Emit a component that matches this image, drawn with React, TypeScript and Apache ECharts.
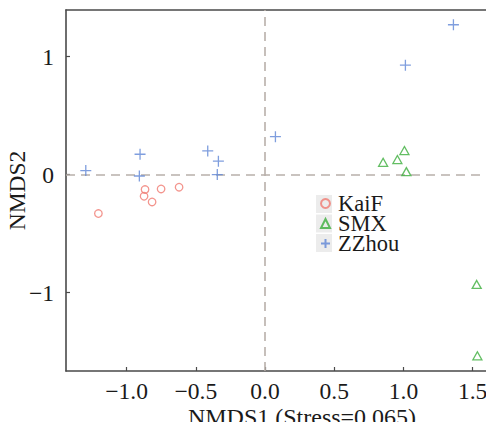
import React, { useEffect, useRef } from "react";
import * as echarts from "echarts";

const xTicks = [-1, -0.5, 0, 0.5, 1, 1.5];
const yTicks = [-1, 0, 1];

const kaiF: [number, number][] = [
  [-1.204, -0.33],
  [-0.867, -0.127],
  [-0.874, -0.184],
  [-0.816, -0.232],
  [-0.751, -0.122],
  [-0.621, -0.107],
];
const smx: [number, number][] = [
  [0.853, 0.104],
  [0.956, 0.127],
  [1.007, 0.203],
  [1.021, 0.025],
  [1.529, -0.931],
  [1.534, -1.535],
];
const zzhou: [number, number][] = [
  [-1.295, 0.034],
  [-0.903, 0.172],
  [-0.908, -0.012],
  [-0.414, 0.2],
  [-0.337, 0.113],
  [-0.345, 0.0],
  [0.075, 0.321],
  [1.014, 0.927],
  [1.361, 1.269],
];

const FONT = "Liberation Serif";
const AX = "#4a4a4a";
const RED = "#f07a72";
const GREEN = "#3cae3c";
const BLUE = "#5f86d6";

const fmt = (v: number, d: number) =>
  v < 0 ? "\u2212" + Math.abs(v).toFixed(d) : v.toFixed(d);

export default function App() {
  const ref = useRef<HTMLDivElement>(null);
  useEffect(() => {
    if (!ref.current) return;
    const chart = echarts.init(ref.current, undefined, { renderer: "svg" });
    const dash = {
      color: "#b8b0aa",
      width: 1.6,
      type: [9, 6] as any,
    };
    chart.setOption({
      animation: false,
      grid: {
        left: 66,
        top: 10,
        height: 361,
        width: 472,
        containLabel: false,
        outerBoundsMode: "none",
      },
      graphic: [0, 1, 2].map((i) => ({
        type: "rect",
        z: 0,
        shape: { x: 316, y: 195 + i * 19.5, width: 16, height: 18 },
        style: { fill: "#ececec" },
      })),
      legend: {
        orient: "vertical",
        left: 320,
        top: 192,
        padding: 0,
        itemWidth: 9,
        itemHeight: 9,
        itemGap: -3,
        z: 5,
        textStyle: {
          fontFamily: FONT,
          fontSize: 22.5,
          color: "#1a1a1a",
          padding: [0, 0, 0, 3],
        },
        data: ["KaiF", "SMX", "ZZhou"],
      },
      xAxis: [
        {
          type: "value",
          min: -1.438,
          max: 1.972,
          name: "NMDS1 (Stress=0.065)",
          nameLocation: "middle",
          nameGap: 46,
          nameMoveOverlap: false,
          nameTextStyle: { fontFamily: FONT, fontSize: 24, color: "#1a1a1a", verticalAlign: "middle" },
          axisLine: { show: true, onZero: false, lineStyle: { color: AX, width: 1.6 } },
          axisTick: {
            show: true,
            inside: true,
            length: 4,
            customValues: xTicks,
            lineStyle: { color: AX, width: 1.2 },
          },
          axisLabel: {
            customValues: xTicks,
            formatter: (v: number) => fmt(v, 1),
            fontFamily: FONT,
            fontSize: 23.5,
            color: "#1a1a1a",
            margin: 8,
          },
          splitLine: { show: false },
        },
        {
          type: "value",
          position: "top",
          min: -1.438,
          max: 1.972,
          axisLine: { show: true, onZero: false, lineStyle: { color: AX, width: 1.6 } },
          axisTick: { show: false },
          axisLabel: { show: false },
          splitLine: { show: false },
        },
      ],
      yAxis: {
        type: "value",
        min: -1.664,
        max: 1.394,
        name: "NMDS2",
        nameLocation: "middle",
        nameGap: 37,
        nameMoveOverlap: false,
        nameTextStyle: { fontFamily: FONT, fontSize: 23.5, color: "#1a1a1a" },
        axisLine: { show: true, onZero: false, lineStyle: { color: AX, width: 1.6 } },
        axisTick: {
          show: true,
          inside: true,
          length: 4,
          customValues: yTicks,
          lineStyle: { color: AX, width: 1.2 },
        },
        axisLabel: {
          customValues: yTicks,
          formatter: (v: number) => fmt(v, 0),
          fontFamily: FONT,
          fontSize: 23.5,
          color: "#1a1a1a",
          margin: 12,
        },
        splitLine: { show: false },
      },
      series: [
        {
          name: "KaiF",
          type: "scatter",
          data: kaiF,
          symbol: "circle",
          symbolSize: 7.5,
          itemStyle: { color: "rgba(0,0,0,0)", borderColor: RED, borderWidth: 1.3 },
          markLine: {
            silent: true,
            symbol: "none",
            label: { show: false },
            lineStyle: dash,
            data: [{ xAxis: 0 }, { yAxis: 0 }],
            z: 1,
          },
          z: 3,
        },
        {
          name: "SMX",
          type: "scatter",
          data: smx,
          symbol: "triangle",
          symbolSize: [9, 8],
          itemStyle: { color: "rgba(0,0,0,0)", borderColor: GREEN, borderWidth: 1.3 },
          z: 3,
        },
        {
          name: "ZZhou",
          type: "scatter",
          data: zzhou,
          symbol: "path://M5,0L5,10M0,5L10,5",
          symbolSize: 11,
          itemStyle: { color: "rgba(0,0,0,0)", borderColor: BLUE, borderWidth: 1.3 },
          z: 3,
        },
      ],
    });
    return () => chart.dispose();
  }, []);
  return <div ref={ref} style={{ width: 494, height: 430, margin: -8 }} />;
}
